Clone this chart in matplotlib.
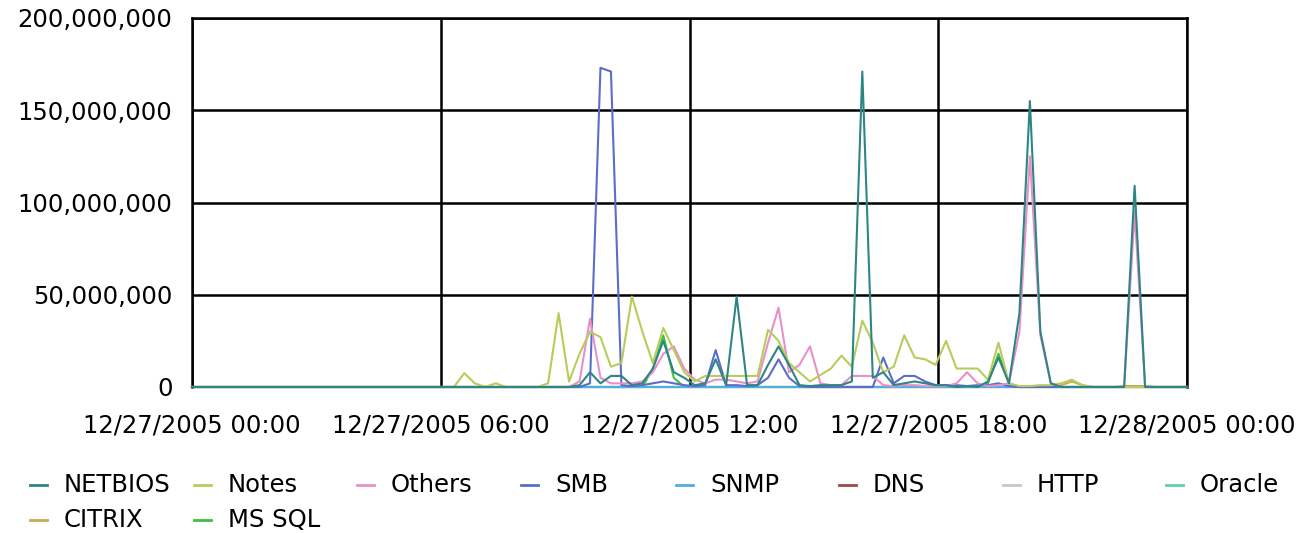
import numpy as np
import matplotlib
matplotlib.use('Agg')
import matplotlib.pyplot as plt
from matplotlib.lines import Line2D
from matplotlib.ticker import FuncFormatter

# Traffic per protocol, in millions, one value per 15 minutes (96 samples)
names = ['NETBIOS', 'Notes', 'Others', 'SMB', 'SNMP', 'DNS', 'HTTP', 'Oracle', 'CITRIX', 'MS SQL']
colors = ['#2f8585', '#b8cc5c', '#e890c8', '#5a6ec8', '#4fb0e0', '#a04848', '#c8c8c8', '#5fd0b0', '#c8aa50', '#40c040']

netbios = [0, 0, 0, 0, 0, 0, 0, 0, 0, 0, 0, 0,
           0, 0, 0, 0, 0, 0, 0, 0, 0, 0, 0, 0,
           0, 0, 0, 0, 0, 0, 0, 0, 0, 0, 0, 0,
           0, 1, 8, 2, 6, 6, 1, 2, 10, 25, 8, 5,
           1, 2, 15, 1, 49, 1, 1, 12, 22, 12, 1, 0.5,
           1, 1, 1, 3, 171, 5, 8, 1, 2, 3, 2, 1,
           1, 0, 0.5, 0, 3, 16, 2, 40, 155, 30, 2, 0,
           0, 0, 0, 0, 0, 0, 109, 0, 0, 0, 0, 0]
notes = [0, 0, 0, 0, 0, 0, 0, 0, 0, 0, 0, 0,
         0, 0, 0, 0, 0, 0, 0, 0, 0, 0, 0, 0,
         0, 0, 7.5, 2, 0, 2, 0, 0, 0, 0, 2, 40,
         3, 18, 30, 27, 11, 13, 49, 30, 13, 32, 20, 8,
         3, 6, 6, 6, 6, 6, 6, 31, 25, 13, 8, 3,
         6.5, 10, 17, 11, 36, 24, 8, 11, 28, 16, 15, 12,
         25, 10, 10, 10, 4, 24, 2, 0.5, 0.5, 1, 1, 2,
         4, 1, 0, 0, 0, 0, 0, 0, 0, 0, 0, 0]
others = [0, 0, 0, 0, 0, 0, 0, 0, 0, 0, 0, 0,
          0, 0, 0, 0, 0, 0, 0, 0, 0, 0, 0, 0,
          0, 0, 0, 0, 0, 0, 0, 0, 0, 0, 0, 0,
          0, 3, 37, 5, 2, 2, 2, 3, 8, 18, 22, 10,
          4, 2, 4, 4, 3, 2, 3, 24, 43, 8, 12, 22,
          2, 1, 1, 6, 6, 6, 1, 0.5, 1, 1, 0.5, 0.5,
          0.5, 2, 8, 2, 0.5, 1, 2, 30, 125, 28, 2, 0,
          0, 0, 0, 0, 0, 0, 95, 0, 0, 0, 0, 0]
smb = [0, 0, 0, 0, 0, 0, 0, 0, 0, 0, 0, 0,
       0, 0, 0, 0, 0, 0, 0, 0, 0, 0, 0, 0,
       0, 0, 0, 0, 0, 0, 0, 0, 0, 0, 0, 0,
       0, 0, 2, 173, 171, 1, 0.5, 1, 2, 3, 2, 1,
       0.5, 1, 20, 1, 1, 0.5, 1, 5, 15, 5, 0.5, 0,
       0, 0, 0, 0, 0, 0, 16, 2, 6, 6, 3, 1,
       1, 1, 0.5, 1, 1, 2, 0.5, 0, 0, 0, 0, 0,
       0, 0, 0, 0, 0, 0, 0, 0, 0, 0, 0, 0]
snmp = [0] * 96
dns = [0] * 96
http = [0] * 96
oracle = [0] * 96
citrix = [0, 0, 0, 0, 0, 0, 0, 0, 0, 0, 0, 0,
          0, 0, 0, 0, 0, 0, 0, 0, 0, 0, 0, 0,
          0, 0, 0, 0, 0, 0, 0, 0, 0, 0, 0, 0,
          0, 0, 0, 0, 0, 0, 0, 0, 0, 0, 0, 0,
          0, 0, 0, 0, 0, 0, 0, 0, 0, 0, 0, 0,
          0, 0, 0, 0, 0, 0, 0, 0, 0, 0, 0, 0,
          0, 0, 0, 0, 0, 0, 0, 0, 0, 0, 0, 1,
          3, 1, 0, 0, 0, 0.5, 0.5, 0.5, 0, 0, 0, 0]
mssql = [0, 0, 0, 0, 0, 0, 0, 0, 0, 0, 0, 0,
         0, 0, 0, 0, 0, 0, 0, 0, 0, 0, 0, 0,
         0, 0, 0, 0, 0, 0, 0, 0, 0, 0, 0, 0,
         0, 0, 0, 0, 0, 0, 0, 0, 10, 28, 5, 0,
         0, 0, 0, 0, 0, 0, 0, 0, 0, 0, 0, 0,
         0, 0, 0, 0, 0, 0, 0, 0, 0, 0, 0, 0,
         0, 0, 0, 0, 2, 18, 2, 0, 0, 0, 0, 0,
         0, 0, 0, 0, 0, 0, 0, 0, 0, 0, 0, 0]

series = [netbios, notes, others, smb, snmp, dns, http, oracle, citrix, mssql]
x_labels = ['12/27/2005 00:00', '12/27/2005 06:00', '12/27/2005 12:00',
            '12/27/2005 18:00', '12/28/2005 00:00']

W, H = 1315, 533
fig = plt.figure(figsize=(W / 100, H / 100), dpi=100)
ax = fig.add_axes([192 / W, 1 - 387 / H, (1187 - 192) / W, (387 - 18) / H])

x = np.arange(len(netbios))
# draw in reverse so the first series ends up on top
for k in reversed(range(len(names))):
    ax.plot(x, np.array(series[k]) * 1e6, color=colors[k], lw=1.5,
            clip_on=False, zorder=3 + (len(names) - k) * 0.1)

ax.set_xlim(0, len(x) - 1)
ax.set_ylim(0, 200e6)
ax.set_yticks(np.arange(0, 200e6 + 1, 50e6))
ax.yaxis.set_major_formatter(FuncFormatter(lambda v, p: f'{int(v):,}'))
ax.set_xticks(np.linspace(0, len(x) - 1, 5))
ax.set_xticklabels(x_labels)
ax.tick_params(axis='both', length=0, labelsize=17.5, colors='black')
ax.tick_params(axis='y', pad=14)
ax.tick_params(axis='x', pad=19)

ax.grid(True, color='black', lw=1.8)
for side, sp in ax.spines.items():
    sp.set_color('black')
    sp.set_linewidth(1.8)
ax.spines['bottom'].set_visible(False)

# legend laid out as a fixed grid below the chart
starts = [30, 194, 357, 521, 676, 839, 1003, 1166]
for k, name in enumerate(names):
    row, col = divmod(k, 8)
    x0 = starts[col]
    yy = 1 - (485 + row * 35) / H
    fig.add_artist(Line2D([x0 / W, (x0 + 17) / W], [yy, yy], color=colors[k], lw=2,
                          transform=fig.transFigure))
    fig.text((x0 + 34) / W, yy, name, fontsize=17.5, va='center', ha='left')

fig.savefig('out.png', dpi=100, facecolor='white')
